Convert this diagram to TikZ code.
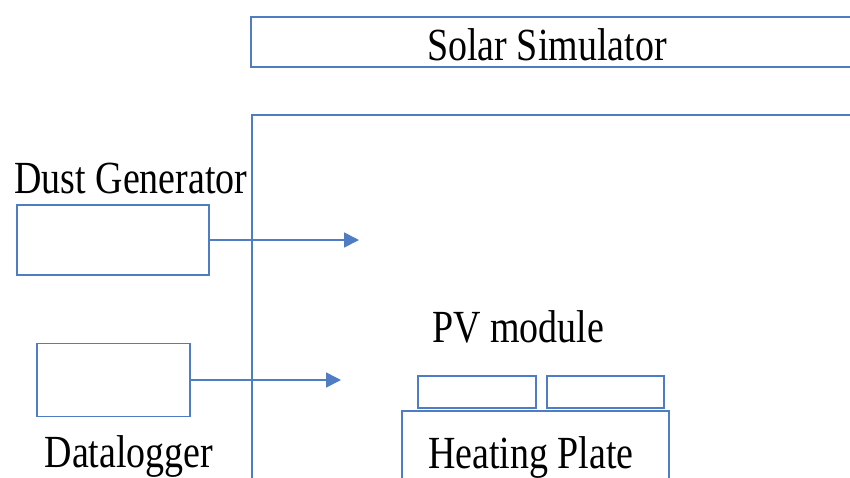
\documentclass[tikz,border=0pt]{standalone}
\usepackage{fontspec}
\setmainfont[FakeStretch=0.825]{Liberation Serif}
\usetikzlibrary{arrows.meta}
\definecolor{ln}{HTML}{4F7DC3}
\begin{document}
\begin{tikzpicture}[x=1pt,y=-1pt,
  box/.style={draw=ln,line width=1.7pt,inner sep=0pt,fill=white},
  wall/.style={draw=ln,line width=1.7pt},
  lbl/.style={font=\fontsize{46}{50}\selectfont,inner sep=0pt,anchor=base},
  arr/.style={draw=ln,line width=1.7pt,-{Triangle[length=15pt,width=15pt]},ln}]
\useasboundingbox (0,0) rectangle (850,477);
\clip (0,0) rectangle (850,477);
\fill[white] (0,0) rectangle (850,477);
% solar simulator
\node[box,minimum width=649pt,minimum height=50pt] (solar) at (575.5,42) {};
\node[lbl] (solart) at (547,60) {Solar Simulator};
% chamber
\coordinate (cb) at (252,500);
\coordinate (ct) at (252,115);
\coordinate (cr) at (900,115);
\draw[wall] (cb) -- (ct) -- (cr);
% dust generator
\node[lbl] (dustt) at (131,193) {Dust Generator};
\node[box,minimum width=192pt,minimum height=70pt] (dust) at (113,240) {};
\coordinate (dusttip) at (359,240);
\draw[arr] (dust.east) -- (dusttip);
% datalogger
\node[box,minimum width=153pt,minimum height=73pt] (dl) at (113.5,380) {};
\node[lbl] (dlt) at (129,467) {Datalogger};
\coordinate (dltip) at (341,380);
\draw[arr] (dl.east) -- (dltip);
% PV module
\node[lbl] (pvt) at (518,342) {PV module};
\node[box,minimum width=118pt,minimum height=32pt] (pv1) at (477,392) {};
\node[box,minimum width=117pt,minimum height=32pt] (pv2) at (605.5,392) {};
% heating plate
\node[box,minimum width=267pt,minimum height=118pt] (hp) at (535.5,470) {};
\node[lbl] (hpt) at (531,468) {Heating Plate};
\end{tikzpicture}
\end{document}
